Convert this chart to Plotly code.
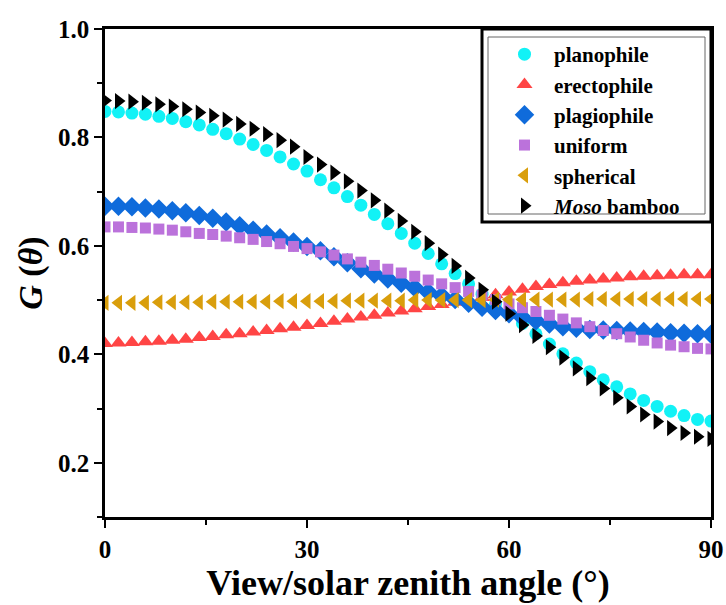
import plotly.graph_objects as go

angles = list(range(0, 91, 2))

planophile = [0.848, 0.847, 0.845, 0.843, 0.839, 0.835, 0.829, 0.823, 0.815, 0.807,
              0.797, 0.787, 0.776, 0.764, 0.751, 0.738, 0.722, 0.707, 0.691, 0.675,
              0.658, 0.641, 0.623, 0.605, 0.586, 0.567, 0.549, 0.530, 0.511, 0.493,
              0.477, 0.457, 0.438, 0.419, 0.401, 0.384, 0.368, 0.353, 0.340, 0.327,
              0.315, 0.304, 0.295, 0.287, 0.280, 0.277]
erectophile = [0.420, 0.421, 0.422, 0.423, 0.424, 0.426, 0.428, 0.431, 0.433, 0.436,
               0.438, 0.441, 0.444, 0.447, 0.450, 0.453, 0.457, 0.461, 0.465, 0.469,
               0.472, 0.476, 0.480, 0.484, 0.488, 0.492, 0.496, 0.500, 0.505, 0.510,
               0.515, 0.520, 0.525, 0.529, 0.532, 0.535, 0.537, 0.539, 0.541, 0.543,
               0.544, 0.545, 0.546, 0.547, 0.547, 0.547]
plagiophile = [0.673, 0.673, 0.672, 0.670, 0.668, 0.665, 0.661, 0.656, 0.651, 0.644,
               0.637, 0.629, 0.622, 0.615, 0.607, 0.599, 0.591, 0.580, 0.569, 0.558,
               0.548, 0.539, 0.531, 0.523, 0.515, 0.508, 0.501, 0.494, 0.487, 0.481,
               0.475, 0.468, 0.462, 0.456, 0.451, 0.448, 0.446, 0.445, 0.444, 0.443,
               0.442, 0.441, 0.440, 0.439, 0.438, 0.437]
uniform = [0.635, 0.635, 0.634, 0.633, 0.631, 0.629, 0.626, 0.623, 0.621, 0.618,
           0.615, 0.612, 0.608, 0.604, 0.599, 0.595, 0.589, 0.583, 0.576, 0.570,
           0.564, 0.557, 0.550, 0.544, 0.537, 0.530, 0.523, 0.516, 0.509, 0.501,
           0.493, 0.486, 0.479, 0.472, 0.465, 0.458, 0.451, 0.444, 0.438, 0.432,
           0.426, 0.421, 0.417, 0.414, 0.411, 0.410]
spherical = [0.495, 0.495, 0.495, 0.495, 0.496, 0.496, 0.496, 0.496, 0.497, 0.497,
             0.497, 0.497, 0.497, 0.498, 0.498, 0.498, 0.498, 0.498, 0.499, 0.499,
             0.499, 0.499, 0.499, 0.500, 0.500, 0.500, 0.500, 0.500, 0.500, 0.501,
             0.501, 0.501, 0.501, 0.501, 0.501, 0.501, 0.502, 0.502, 0.502, 0.502,
             0.502, 0.502, 0.502, 0.502, 0.502, 0.502]
moso_bamboo = [0.868, 0.867, 0.866, 0.864, 0.861, 0.857, 0.852, 0.846, 0.840, 0.833,
               0.825, 0.816, 0.806, 0.795, 0.783, 0.764, 0.750, 0.735, 0.719, 0.702,
               0.684, 0.665, 0.646, 0.626, 0.605, 0.584, 0.563, 0.541, 0.519, 0.497,
               0.475, 0.454, 0.434, 0.413, 0.394, 0.374, 0.356, 0.337, 0.320, 0.304,
               0.289, 0.276, 0.264, 0.255, 0.248, 0.244]

series = [
    ("planophile", planophile, "circle", "#12F2F6", 13),
    ("erectophile", erectophile, "triangle-up", "#FF4545", 14),
    ("plagiophile", plagiophile, "diamond", "#0F6BDB", 15),
    ("uniform", uniform, "square", "#BB72DB", 11),
    ("spherical", spherical, "triangle-left", "#D99E0C", 14),
    ("<i>Moso</i> bamboo", moso_bamboo, "triangle-right", "#000000", 14),
]

FONT = "Liberation Serif"

W, H = 726, 605
ML, MR, MT, MB = 105, 15, 29, 88
PW, PH = W - ML - MR, H - MT - MB


def px(xp):
    return (xp - ML) / PW


def py(yp):
    return (H - MB - yp) / PH


fig = go.Figure()
for i, (name, vals, sym, col, sz) in enumerate(series):
    fig.add_trace(go.Scatter(
        x=angles, y=vals, mode="markers", name=name, legendgroup=f"g{i}",
        marker=dict(symbol=sym, color=col, size=sz, line=dict(width=0)),
    ))

axis_common = dict(
    showline=True, linecolor="black", linewidth=2.5, mirror=True,
    ticks="outside", ticklen=8, tickwidth=2, tickcolor="black",
    showgrid=False, zeroline=False,
    tickfont=dict(family=FONT, size=25, color="black", weight="bold"),
)

fig.update_layout(
    width=W, height=H,
    margin=dict(l=ML, r=MR, t=MT, b=MB, autoexpand=False),
    plot_bgcolor="white", paper_bgcolor="white",
    xaxis=dict(range=[0, 90], tick0=0, dtick=30,
               minor=dict(dtick=15, ticklen=5, tickwidth=2, tickcolor="black", ticks="outside"),
               title=dict(text="View/solar zenith angle (°)",
                          font=dict(family=FONT, size=36, color="black", weight="bold"),
                          standoff=4),
               **axis_common),
    yaxis=dict(range=[0.1, 1.0], tick0=0.2, dtick=0.2, tickformat=".1f",
               minor=dict(dtick=0.1, tick0=0.1, ticklen=5, tickwidth=2, tickcolor="black", ticks="outside"),
               title=dict(text="<i>G</i> (<i>θ</i>)",
                          font=dict(family=FONT, size=34, color="black", weight="bold"),
                          standoff=6),
               **axis_common),
    legend=dict(x=px(495), y=py(34), xanchor="left", yanchor="top",
                bgcolor="rgba(0,0,0,0)", borderwidth=0,
                font=dict(family=FONT, size=21, color="black", weight="bold"),
                tracegroupgap=0, itemwidth=49),
    showlegend=True,
)

# inner thin frame and outer thick frame of the legend box
fig.add_shape(type="rect", xref="paper", yref="paper",
              x0=px(488), x1=px(705), y0=py(214), y1=py(37),
              line=dict(color="#666666", width=1), fillcolor="white", layer="below")
fig.add_shape(type="rect", xref="paper", yref="paper",
              x0=px(482), x1=1.0, y0=py(222), y1=1.0,
              line=dict(color="black", width=3), fillcolor="rgba(0,0,0,0)", layer="above")

fig.write_html("out.html",
               config={"displayModeBar": False},
               post_script="document.body.style.margin='0';document.body.style.overflow='hidden';")
